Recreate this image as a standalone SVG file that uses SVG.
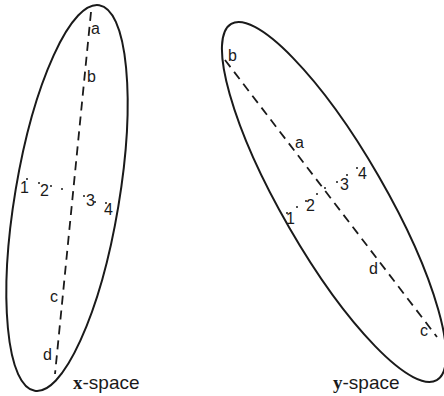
<svg xmlns="http://www.w3.org/2000/svg" width="444" height="396" viewBox="0 0 444 396">
<style>
.ell{fill:none;stroke:#1a1a1a;stroke-width:2}
.axis{fill:none;stroke:#1a1a1a;stroke-width:1.8;stroke-dasharray:9 6}
.lbl{font-family:"Liberation Sans",Arial,sans-serif;font-size:16px;fill:#1a1a1a}
.cap{font-family:"Liberation Sans",Arial,sans-serif;font-size:19px;fill:#1a1a1a}
.bold{font-family:"Liberation Serif","Times New Roman",serif;font-weight:bold}
.dot{fill:#1a1a1a}
</style>
<rect width="444" height="396" fill="#fff"/>
<g id="x-space">
  <ellipse class="ell" cx="0" cy="0" rx="52" ry="195.5" transform="translate(67 198) rotate(9.5)"/>
  <line class="axis" x1="91" y1="12" x2="55" y2="374"/>
  <g class="dot">
    <circle cx="27" cy="179" r="1"/><circle cx="39" cy="183" r="1"/><circle cx="51" cy="186" r="1"/>
    <circle cx="62" cy="189" r="1"/><circle cx="84" cy="196" r="1"/><circle cx="95" cy="202" r="1"/>
    <circle cx="106" cy="203" r="1"/>
  </g>
  <text class="lbl" x="91" y="34">a</text>
  <text class="lbl" x="87" y="82">b</text>
  <text class="lbl" x="50" y="302">c</text>
  <text class="lbl" x="43" y="360">d</text>
  <text class="lbl" x="20" y="193">1</text>
  <text class="lbl" x="40" y="196">2</text>
  <text class="lbl" x="86" y="206">3</text>
  <text class="lbl" x="104" y="215">4</text>
  <text class="cap" x="73" y="389"><tspan class="bold">x</tspan>-space</text>
</g>
<g id="y-space">
  <ellipse class="ell" cx="0" cy="0" rx="51.6" ry="205.6" transform="translate(334 202) rotate(-30)"/>
  <line class="axis" x1="225" y1="60" x2="437" y2="337"/>
  <g class="dot">
    <circle cx="287" cy="213" r="1"/><circle cx="297" cy="207" r="1"/><circle cx="306" cy="201" r="1"/>
    <circle cx="317" cy="194" r="1"/><circle cx="325" cy="188" r="1"/><circle cx="337" cy="182" r="1"/>
    <circle cx="347" cy="175" r="1"/><circle cx="357" cy="168" r="1"/>
  </g>
  <text class="lbl" x="228" y="61">b</text>
  <text class="lbl" x="295" y="148">a</text>
  <text class="lbl" x="369" y="274">d</text>
  <text class="lbl" x="420" y="336">c</text>
  <text class="lbl" x="286" y="224">1</text>
  <text class="lbl" x="306" y="211">2</text>
  <text class="lbl" x="340" y="190">3</text>
  <text class="lbl" x="358" y="179">4</text>
  <text class="cap" x="333" y="389"><tspan class="bold">y</tspan>-space</text>
</g>
</svg>
